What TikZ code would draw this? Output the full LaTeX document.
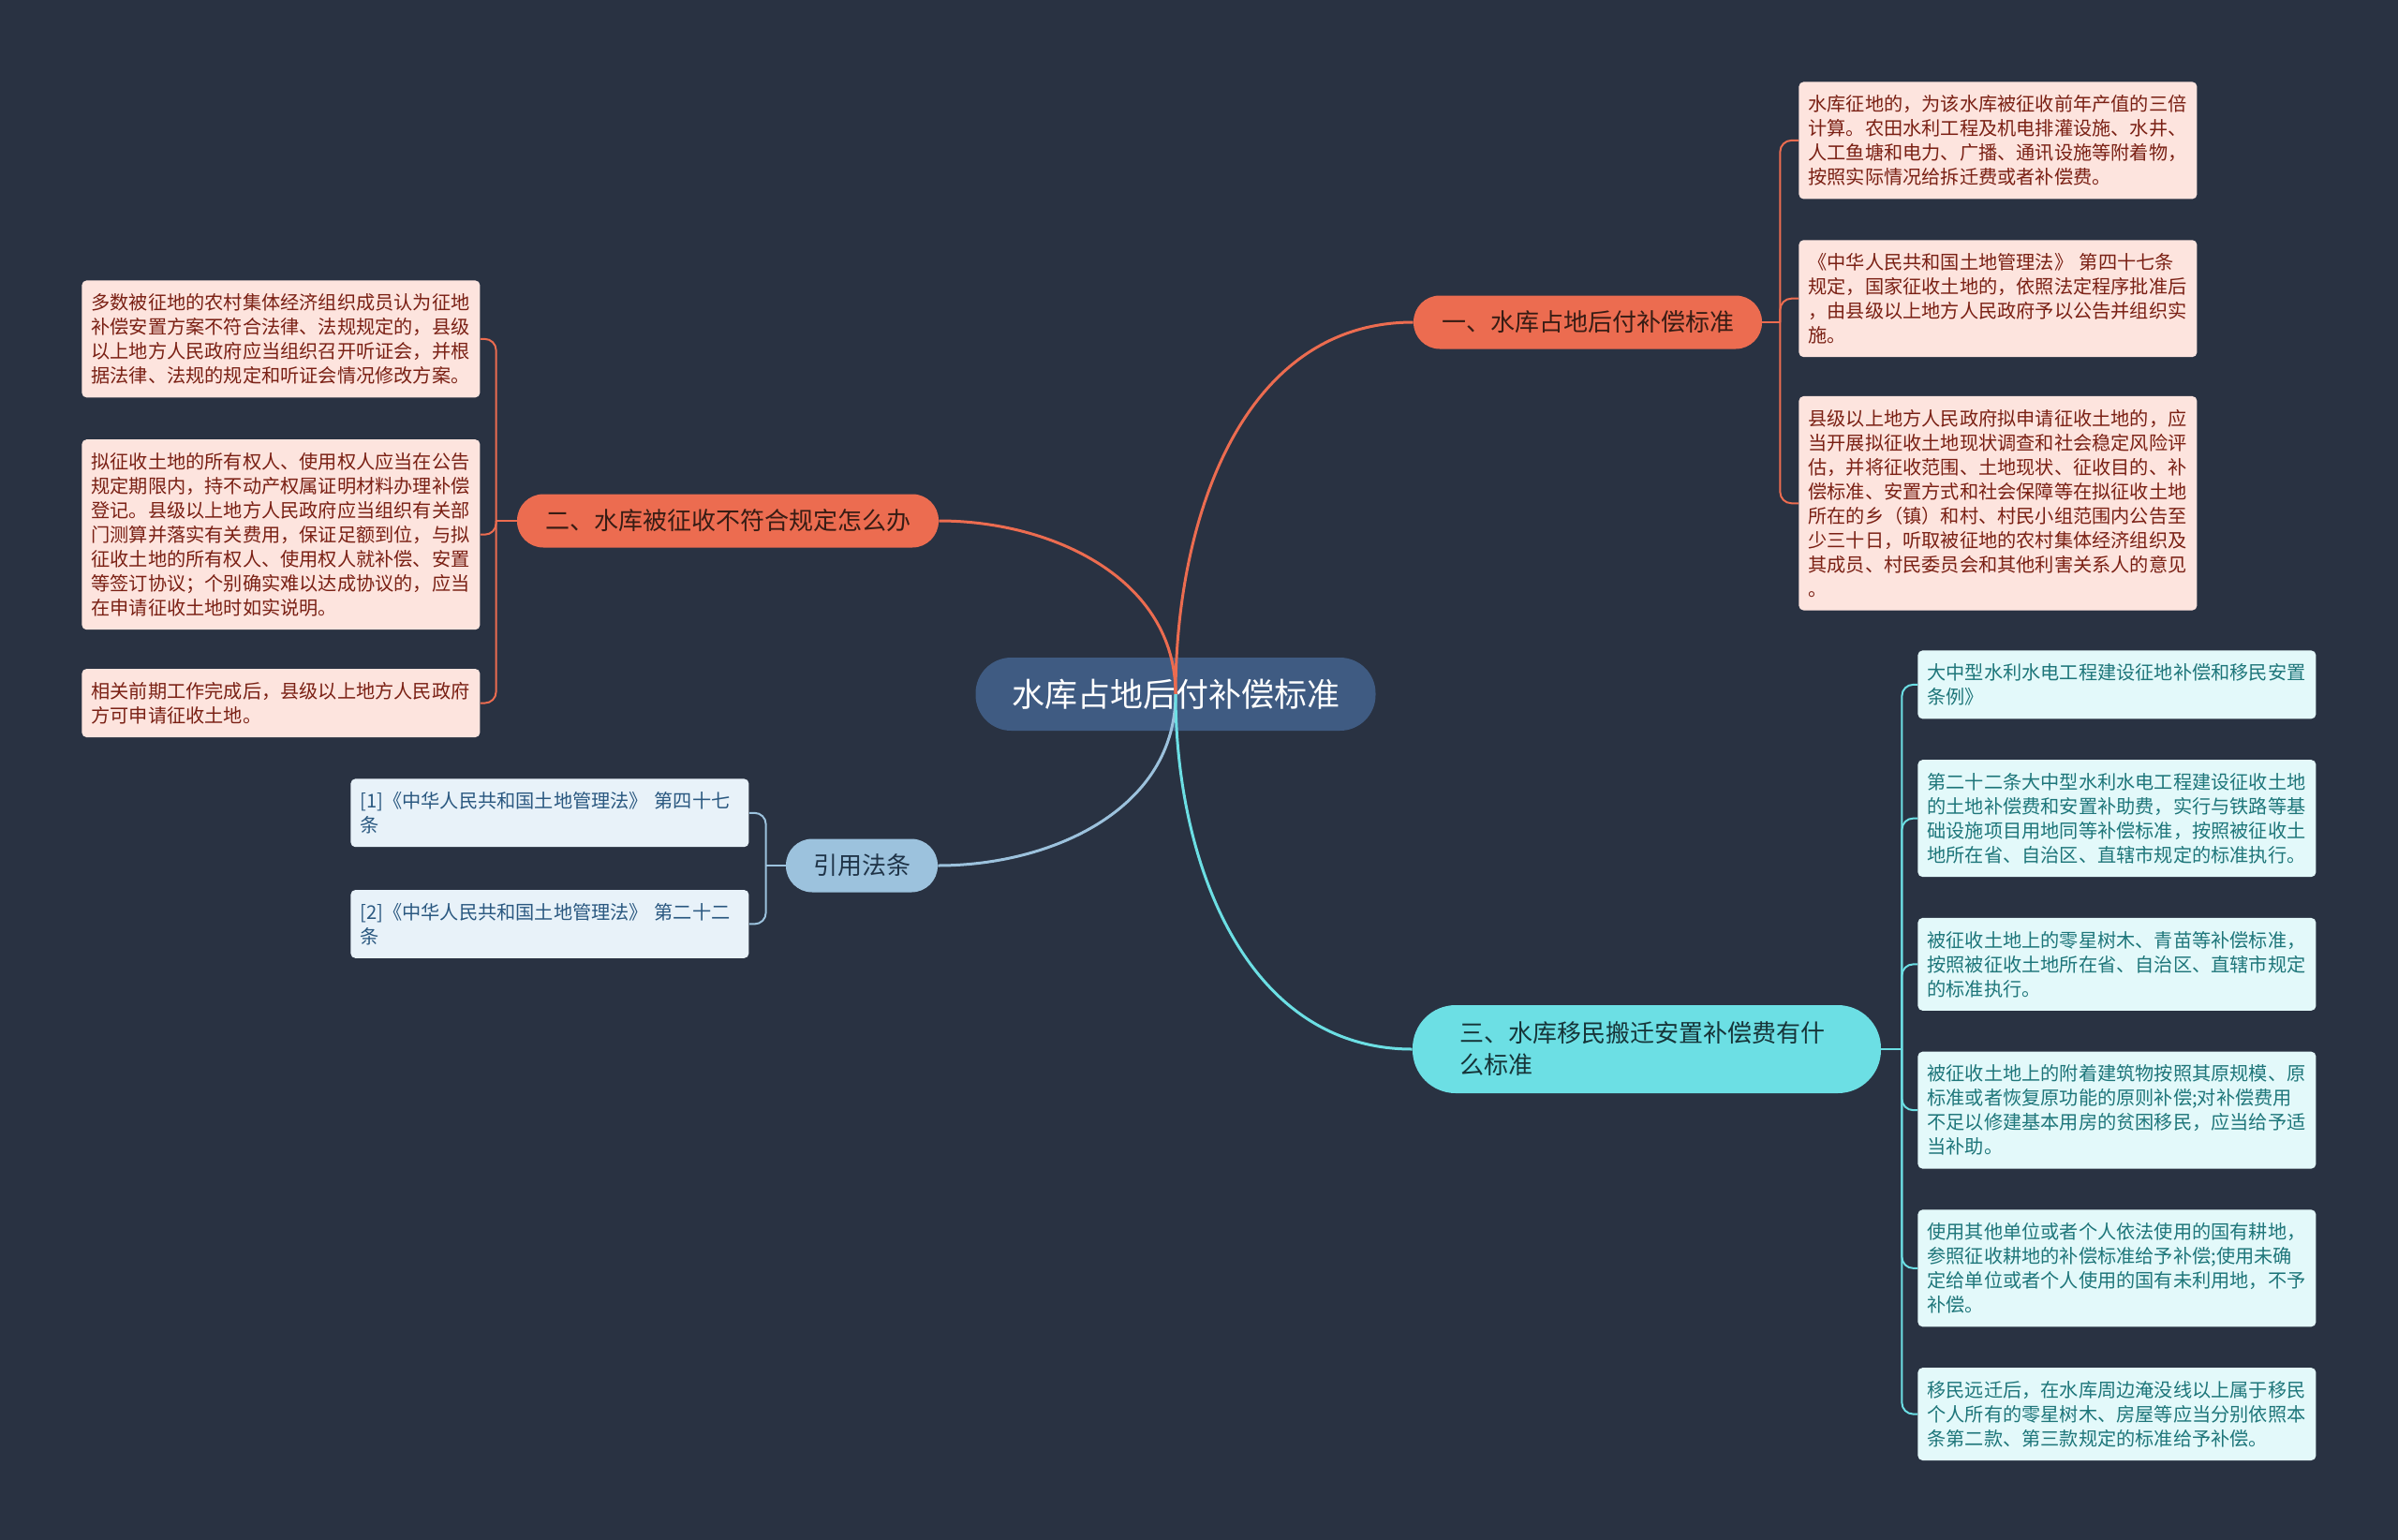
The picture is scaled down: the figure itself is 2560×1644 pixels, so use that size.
\documentclass[tikz,border=0pt]{standalone}
\usepackage{fontspec}
\setmainfont{Noto Sans CJK SC}
\usepackage{tikz}
\usetikzlibrary{positioning}
\usepackage{xcolor}

\definecolor{bgdark}{RGB}{41,50,66}
\definecolor{rootblue}{RGB}{63,91,130}
\definecolor{orangeA}{RGB}{236,108,80}
\definecolor{orangeT}{RGB}{55,28,20}
\definecolor{pinkF}{RGB}{253,228,222}
\definecolor{pinkT}{RGB}{122,32,20}
\definecolor{cyanA}{RGB}{108,223,228}
\definecolor{cyanT}{RGB}{22,52,56}
\definecolor{cyanF}{RGB}{227,249,250}
\definecolor{cyanL}{RGB}{30,118,122}
\definecolor{steelA}{RGB}{156,194,221}
\definecolor{steelT}{RGB}{32,52,72}
\definecolor{steelF}{RGB}{232,242,249}
\definecolor{steelL}{RGB}{42,88,128}

\begin{document}
\begin{tikzpicture}[
  x=0.5pt, y=-0.5pt,
  root/.style={rectangle, rounded corners=19pt, fill=rootblue, text=white,
    font=\fontsize{17.5}{21}\selectfont, minimum width=213.5pt, minimum height=39pt},
  topic/.style={rectangle, rounded corners=14pt, font=\fontsize{13}{17}\selectfont,
    inner xsep=15pt, minimum height=28.5pt},
  leaf/.style={rectangle, rounded corners=2.5pt, align=left, text width=202.5pt,
    inner xsep=5pt, inner ysep=7.05pt, font=\fontsize{10.1}{13}\selectfont},
  pinkleaf/.style={leaf, fill=pinkF, text=pinkT},
  cyanleaf/.style={leaf, fill=cyanF, text=cyanL},
  citeleaf/.style={leaf, fill=steelF, text=steelL},
  mainline/.style={line width=1.5pt},
  subline/.style={line width=1pt, rounded corners=6pt}
]
% background
\fill[bgdark] (0,0) rectangle (2560,1644);

% centre and main topics
\node[root] (root) at (1255,741) {水库占地后付补偿标准};
\node[topic, fill=orangeA, text=orangeT] (b1) at (1695,344) {一、水库占地后付补偿标准};
\node[topic, fill=orangeA, text=orangeT] (b2) at (777,556) {二、水库被征收不符合规定怎么办};
\node[topic, fill=steelA, text=steelT, inner xsep=14.5pt] (b3) at (920,924) {引用法条};
\node[topic, fill=cyanA, text=cyanT, rounded corners=23pt, align=left, text width=200pt,
  inner xsep=25pt, minimum height=47pt] (b4) at (1758,1120) {三、水库移民搬迁安置补偿费有什\\么标准};

% right top leaves
\node[pinkleaf, anchor=north west] (r1) at (1920,87) {水库征地的，为该水库被征收前年产值的三倍\\计算。农田水利工程及机电排灌设施、水井、\\人工鱼塘和电力、广播、通讯设施等附着物，\\按照实际情况给拆迁费或者补偿费。};
\node[pinkleaf, below=21.5pt of r1] (r2) {《中华人民共和国土地管理法》 第四十七条\\规定，国家征收土地的，依照法定程序批准后\\，由县级以上地方人民政府予以公告并组织实\\施。};
\node[pinkleaf, below=20.5pt of r2] (r3) {县级以上地方人民政府拟申请征收土地的，应\\当开展拟征收土地现状调查和社会稳定风险评\\估，并将征收范围、土地现状、征收目的、补\\偿标准、安置方式和社会保障等在拟征收土地\\所在的乡（镇）和村、村民小组范围内公告至\\少三十日，听取被征地的农村集体经济组织及\\其成员、村民委员会和其他利害关系人的意见\\。};

% left leaves
\node[pinkleaf, anchor=north west] (l1) at (87,299) {多数被征地的农村集体经济组织成员认为征地\\补偿安置方案不符合法律、法规规定的，县级\\以上地方人民政府应当组织召开听证会，并根\\据法律、法规的规定和听证会情况修改方案。};
\node[pinkleaf, below=22pt of l1] (l2) {拟征收土地的所有权人、使用权人应当在公告\\规定期限内，持不动产权属证明材料办理补偿\\登记。县级以上地方人民政府应当组织有关部\\门测算并落实有关费用，保证足额到位，与拟\\征收土地的所有权人、使用权人就补偿、安置\\等签订协议；个别确实难以达成协议的，应当\\在申请征收土地时如实说明。};
\node[pinkleaf, below=20.5pt of l2] (l3) {相关前期工作完成后，县级以上地方人民政府\\方可申请征收土地。};

% cited laws
\node[citeleaf, anchor=north west] (c1) at (374,831) {[1]《中华人民共和国土地管理法》 第四十七\\条};
\node[citeleaf, below=22.5pt of c1] (c2) {[2]《中华人民共和国土地管理法》 第二十二\\条};

% right bottom leaves
\node[cyanleaf, anchor=north west] (s1) at (2047,694) {大中型水利水电工程建设征地补偿和移民安置\\条例》};
\node[cyanleaf, below=21.5pt of s1] (s2) {第二十二条大中型水利水电工程建设征收土地\\的土地补偿费和安置补助费，实行与铁路等基\\础设施项目用地同等补偿标准，按照被征收土\\地所在省、自治区、直辖市规定的标准执行。};
\node[cyanleaf, below=21.5pt of s2] (s3) {被征收土地上的零星树木、青苗等补偿标准，\\按照被征收土地所在省、自治区、直辖市规定\\的标准执行。};
\node[cyanleaf, below=21.5pt of s3] (s4) {被征收土地上的附着建筑物按照其原规模、原\\标准或者恢复原功能的原则补偿;对补偿费用\\不足以修建基本用房的贫困移民，应当给予适\\当补助。};
\node[cyanleaf, below=21.5pt of s4] (s5) {使用其他单位或者个人依法使用的国有耕地，\\参照征收耕地的补偿标准给予补偿;使用未确\\定给单位或者个人使用的国有未利用地，不予\\补偿。};
\node[cyanleaf, below=21.5pt of s5] (s6) {移民远迁后，在水库周边淹没线以上属于移民\\个人所有的零星树木、房屋等应当分别依照本\\条第二款、第三款规定的标准给予补偿。};

% junctions
\coordinate[right=9.5pt of b1] (j1);
\coordinate[left=11pt of b2] (j2);
\coordinate[left=10.5pt of b3] (j3);
\coordinate[right=11pt of b4] (j4);

% centre to topics
\draw[mainline, orangeA] (root.center) to[out=90, in=180] (b1.west);
\draw[mainline, orangeA] (root.center) to[out=90, in=0] (b2.east);
\draw[mainline, steelA] (root.center) to[out=-90, in=0] (b3.east);
\draw[mainline, cyanA] (root.center) to[out=-90, in=180] (b4.west);

% topics to leaves
\draw[subline, orangeA] (b1.east) -- (j1);
\foreach \n in {r1,r2,r3}
  \draw[subline, orangeA] (j1) |- (\n.west);
\draw[subline, orangeA] (b2.west) -- (j2);
\foreach \n in {l1,l2,l3}
  \draw[subline, orangeA] (j2) |- (\n.east);
\draw[subline, steelA] (b3.west) -- (j3);
\foreach \n in {c1,c2}
  \draw[subline, steelA] (j3) |- (\n.east);
\draw[subline, cyanA] (b4.east) -- (j4);
\foreach \n in {s1,s2,s3,s4,s5,s6}
  \draw[subline, cyanA] (j4) |- (\n.west);
\end{tikzpicture}
\end{document}
